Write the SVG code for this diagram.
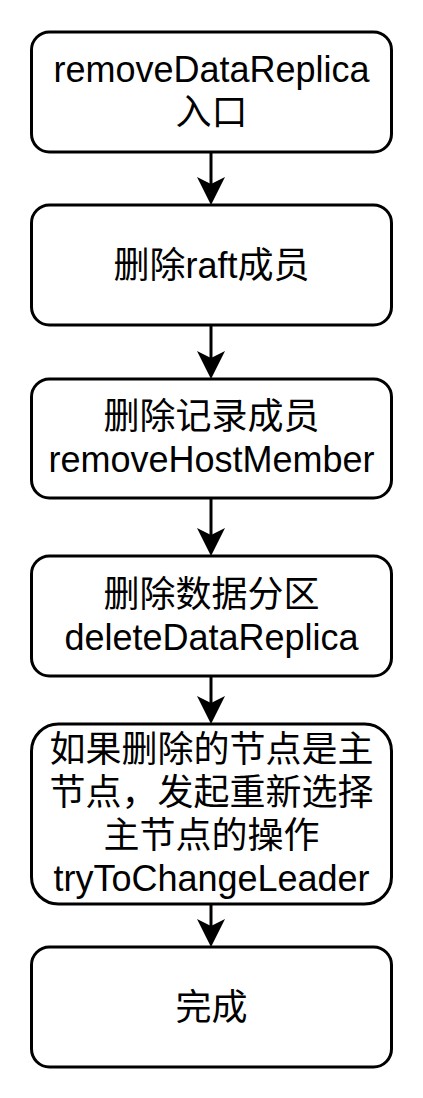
<svg xmlns="http://www.w3.org/2000/svg" width="423" height="1098" viewBox="0 0 423 1098">
  <style>
    .box { fill: #ffffff; stroke: #000000; stroke-width: 3; }
    .lbl { font-family: "Liberation Sans", Arial, "Noto Sans CJK SC", sans-serif; font-size: 36px; fill: #000000; text-anchor: middle; }
    .edge { stroke: #000000; stroke-width: 3; fill: none; marker-end: url(#arrow); }
  </style>
  <defs>
    <marker id="arrow" markerUnits="userSpaceOnUse" markerWidth="28" markerHeight="28" viewBox="0 0 28 28" refX="7" refY="14" orient="auto">
      <path d="M0,0 L28,14 L0,28 L7,14 Z" fill="#000000" stroke="none"/>
    </marker>
  </defs>
  <rect width="423" height="1098" fill="#ffffff"/>
  <g id="connectors">
    <line class="edge" x1="211" y1="152" x2="211" y2="184"/>
    <line class="edge" x1="211" y1="325" x2="211" y2="358"/>
    <line class="edge" x1="211" y1="498" x2="211" y2="535"/>
    <line class="edge" x1="211" y1="676" x2="211" y2="703"/>
    <line class="edge" x1="211" y1="904" x2="211" y2="926"/>
  </g>
  <g id="node1">
    <rect class="box" x="31.5" y="32" width="360" height="120" rx="18" ry="18"/>
    <text class="lbl" x="211.5" y="82">removeDataReplica</text>
    <text class="lbl" x="211.5" y="125">入口</text>
  </g>
  <g id="node2">
    <rect class="box" x="31.5" y="205" width="360" height="120" rx="18" ry="18"/>
    <text class="lbl" x="211.5" y="278">删除raft成员</text>
  </g>
  <g id="node3">
    <rect class="box" x="31.5" y="379" width="360" height="119" rx="18" ry="18"/>
    <text class="lbl" x="211.5" y="429">删除记录成员</text>
    <text class="lbl" x="211.5" y="472">removeHostMember</text>
  </g>
  <g id="node4">
    <rect class="box" x="31.5" y="556" width="360" height="120" rx="18" ry="18"/>
    <text class="lbl" x="211.5" y="607">删除数据分区</text>
    <text class="lbl" x="211.5" y="650">deleteDataReplica</text>
  </g>
  <g id="node5">
    <rect class="box" x="31.5" y="724" width="360" height="180" rx="27" ry="27"/>
    <text class="lbl" x="211.5" y="762">如果删除的节点是主</text>
    <text class="lbl" x="211.5" y="805">节点，发起重新选择</text>
    <text class="lbl" x="211.5" y="848">主节点的操作</text>
    <text class="lbl" x="211.5" y="891">tryToChangeLeader</text>
  </g>
  <g id="node6">
    <rect class="box" x="31.5" y="947" width="360" height="120" rx="18" ry="18"/>
    <text class="lbl" x="211.5" y="1020">完成</text>
  </g>
</svg>
